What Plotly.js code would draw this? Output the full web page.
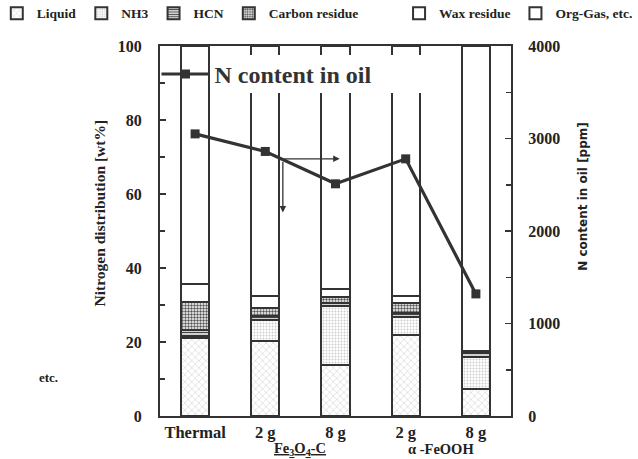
<!DOCTYPE html>
<html>
<head>
<meta charset="utf-8">
<script src="https://cdn.plot.ly/plotly-3.0.1.min.js"></script>
<style>html,body{margin:0;padding:0;background:#fff;}#chart{width:638px;height:459px;}</style>
</head>
<body>
<div id="chart"></div>
<script>
// ---- data ----
const categories = ["Thermal", "Fe3O4-C 2 g", "Fe3O4-C 8 g", "FeOOH 2 g", "FeOOH 8 g"];
const tickLabels = ["Thermal", "2 g", "8 g", "2 g", "8 g"];
const liquid      = [21.2, 20.3, 13.8, 21.9, 7.3];
const nh3         = [0.4, 5.6, 15.8, 4.9, 8.6];
const hcn         = [1.7, 1.0, 1.0, 1.0, 1.2];
const carbonRes   = [7.6, 2.3, 1.5, 2.7, 0.3];
const waxRes      = [4.8, 3.2, 2.2, 2.0, 0.2];
const orgGas      = [64.3, 67.6, 65.7, 67.5, 82.4];
const nContent    = [3050, 2860, 2510, 2780, 1320];
const groupLabels = ["Fe<sub>3</sub>O<sub>4</sub>-C", "\u03b1 -FeOOH"];
const leftTitle  = "Nitrogen distribution [wt%]";
const rightTitle = "N content in oil [ppm]";

const serif = "Liberation Serif, Times New Roman, serif";
const edge = "#333";

function barTrace(name, vals, pattern, legendId) {
  return {
    type: "bar", name: name, x: categories, y: vals, width: 0.4,
    marker: { color: "#fff", line: { color: edge, width: 2 }, pattern: pattern },
    legend: legendId, hoverinfo: "skip"
  };
}

const traces = [
  barTrace("Liquid", liquid, { shape: "x", fgcolor: "#bbb", bgcolor: "#fff", size: 5, solidity: 0.15 }, "legend"),
  barTrace("NH3", nh3, { shape: ".", fgcolor: "#ccc", bgcolor: "#fff", size: 3, solidity: 0.3 }, "legend"),
  barTrace("HCN", hcn, { shape: "-", fgcolor: "#444", bgcolor: "#fff", size: 3, solidity: 0.5 }, "legend"),
  barTrace("Carbon residue", carbonRes, { shape: ".", fgcolor: "#555", bgcolor: "#fff", size: 3, solidity: 0.5 }, "legend"),
  barTrace("Wax residue", waxRes, { shape: "", bgcolor: "#fff" }, "legend3"),
  barTrace("Org-Gas, etc.", orgGas, { shape: "", bgcolor: "#fff" }, "legend3"),
  {
    type: "scatter", mode: "lines+markers", name: "N content in oil",
    x: categories, y: nContent, yaxis: "y2", legend: "legend2",
    line: { color: "#333", width: 3.2 },
    marker: { symbol: "square", size: 9, color: "#333" },
    hoverinfo: "skip"
  }
];

const tickFont = { family: serif, size: 16, color: "#222", weight: "bold" };
const legendFont = { family: serif, size: 13.5, color: "#222", weight: "bold" };

const layout = {
  width: 638, height: 459,
  margin: { l: 160, r: 127, t: 46, b: 43, autoexpand: false },
  paper_bgcolor: "#fff", plot_bgcolor: "#fff",
  barmode: "stack",
  showlegend: true,
  font: { family: serif, color: "#222" },
  xaxis: {
    type: "category", categoryorder: "array", categoryarray: categories,
    tickvals: categories, ticktext: tickLabels,
    range: [-0.5, 4.5],
    showline: true, linecolor: edge, linewidth: 2, mirror: true,
    ticks: "", showgrid: false, zeroline: false,
    tickfont: { family: serif, size: 16.5, color: "#222", weight: "bold" }
  },
  yaxis: {
    range: [0, 100], dtick: 20,
    showline: true, linecolor: edge, linewidth: 2,
    ticks: "inside", ticklen: 6, tickwidth: 1.5, tickcolor: edge,
    minor: { dtick: 10, ticks: "inside", ticklen: 5, tickwidth: 1.5, tickcolor: edge },
    showgrid: false, zeroline: false,
    tickfont: tickFont,
    ticklabelstandoff: 13
  },
  yaxis2: {
    overlaying: "y", side: "right", range: [0, 4000], dtick: 1000,
    showline: true, linecolor: edge, linewidth: 2,
    ticks: "inside", ticklen: 6, tickwidth: 1.5, tickcolor: edge,
    minor: { dtick: 500, ticks: "inside", ticklen: 5, tickwidth: 1.5, tickcolor: edge },
    showgrid: false, zeroline: false,
    tickfont: tickFont,
    ticklabelstandoff: 12
  },
  legend: {
    orientation: "h", x: -0.465, xanchor: "left", y: 1.13, yanchor: "top",
    font: legendFont, itemwidth: 30, traceorder: "normal", bgcolor: "rgba(0,0,0,0)"
  },
  legend3: {
    orientation: "h", x: 1.362, xanchor: "right", y: 1.13, yanchor: "top",
    font: legendFont, itemwidth: 30, traceorder: "normal", bgcolor: "rgba(0,0,0,0)"
  },
  legend2: {
    x: -0.01, xanchor: "left", y: 0.984, yanchor: "top",
    font: { family: serif, size: 24, color: "#333", weight: "bold" },
    bgcolor: "rgba(0,0,0,0)", itemwidth: 48
  },
  shapes: [
    { type: "rect", xref: "paper", yref: "paper", x0: 0.245, x1: 0.755, y0: 0.873, y1: 0.976,
      fillcolor: "#fff", line: { width: 0 }, layer: "above" }
  ],
  annotations: [
    { xref: "paper", yref: "paper", x: -0.171, y: 0.55, xanchor: "center", yanchor: "middle",
      textangle: -90, showarrow: false,
      text: leftTitle, font: { family: serif, size: 15.5, color: "#222", weight: "bold" } },
    { xref: "paper", yref: "paper", x: 1.205, y: 0.595, xanchor: "center", yanchor: "middle",
      textangle: -90, showarrow: false,
      text: rightTitle, font: { family: "DejaVu Sans, sans-serif", size: 12, color: "#222", weight: "bold" } },
    { xref: "x", yref: "paper", x: 1.5, y: -0.088, yanchor: "middle", showarrow: false,
      text: "<span style=\"text-decoration:underline\">" + groupLabels[0] + "</span>",
      font: { family: serif, size: 14.5, color: "#222", weight: "bold" } },
    { xref: "x", yref: "paper", x: 3.5, y: -0.088, yanchor: "middle", showarrow: false,
      text: groupLabels[1],
      font: { family: serif, size: 14.5, color: "#222", weight: "bold" } },
    { xref: "paper", yref: "paper", x: -0.319, y: 0.103, xanchor: "center", yanchor: "middle", showarrow: false,
      text: "etc.", font: { family: serif, size: 13, color: "#222", weight: "bold" } },
    { xref: "x", yref: "y", x: 2.06, y: 69.5, ax: -57, ay: 0, axref: "pixel", ayref: "pixel",
      showarrow: true, arrowhead: 2, arrowsize: 1, arrowwidth: 1.3, arrowcolor: "#333", text: "" },
    { xref: "x", yref: "y", x: 1.25, y: 55, ax: 0, ay: -52, axref: "pixel", ayref: "pixel",
      showarrow: true, arrowhead: 2, arrowsize: 1, arrowwidth: 1.3, arrowcolor: "#333", text: "" }
  ]
};

Plotly.newPlot("chart", traces, layout, { staticPlot: true, displayModeBar: false });
</script>
</body>
</html>
